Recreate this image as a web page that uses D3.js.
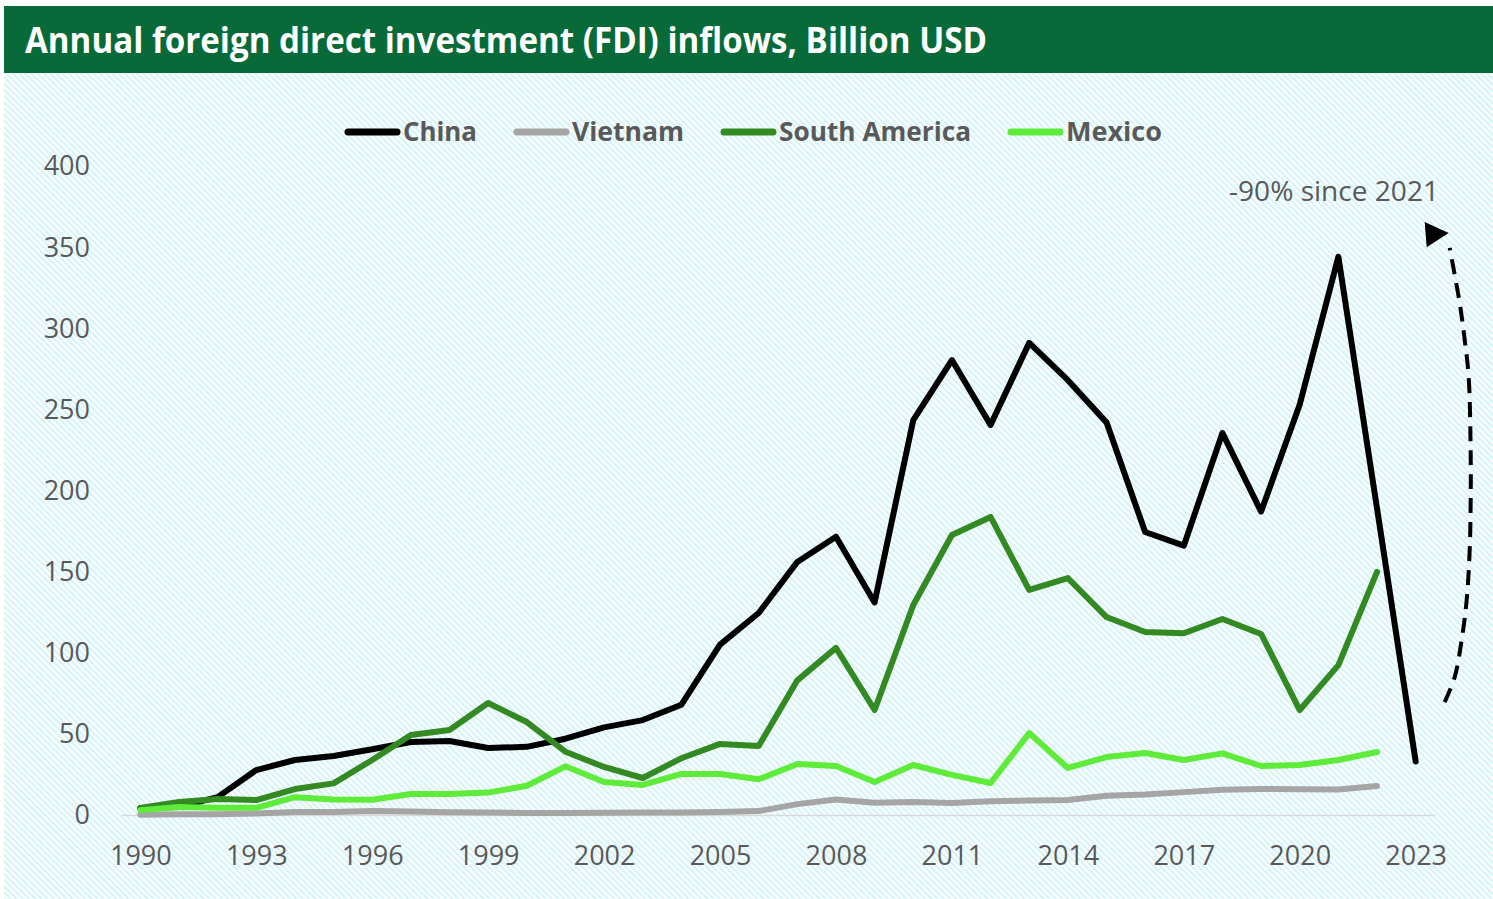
<!DOCTYPE html>
<html>
<head>
<meta charset="utf-8">
<script src="https://cdn.jsdelivr.net/npm/d3@7"></script>
<style>
  html, body { margin: 0; padding: 0; background: #ffffff; }
  svg { display: block; }
  text { font-family: "Open Sans", "Noto Sans", sans-serif; }
</style>
</head>
<body>
<svg id="chart" width="1493" height="899"></svg>
<script>
// Annual FDI inflows, billion USD
const years = d3.range(1990, 2024);
const xTickYears = [1990, 1993, 1996, 1999, 2002, 2005, 2008, 2011, 2014, 2017, 2020, 2023];
const yTicks = [0, 50, 100, 150, 200, 250, 300, 350, 400];

const seriesNames = ["China", "Vietnam", "South America", "Mexico"];

const china = [4.3, 5, 11, 27.7, 33.9, 36.4, 40.5, 45, 45.6, 41.3,
  42, 47, 54, 58.5, 68, 105, 124.5, 156, 171.5, 131,
  243.4, 280.4, 240.4, 291, 268, 242, 174.4, 166, 235.4, 187,
  253, 344, 189, 33];
const vietnam = [0.2, 0.4, 0.5, 0.9, 1.9, 1.8, 2.4, 2.2, 1.7, 1.5,
  1.3, 1.3, 1.4, 1.5, 1.6, 1.9, 2.4, 6.7, 9.6, 7.6,
  8, 7.4, 8.4, 8.9, 9.2, 11.8, 12.6, 14.1, 15.5, 16.1,
  15.8, 15.7, 17.9, null];
const southAmerica = [4.3, 8, 9.9, 9.2, 16, 19.5, 33.9, 49.3, 52.4, 69,
  57.3, 39, 29.6, 22.8, 35, 43.8, 42.5, 83, 103, 64.7,
  129.4, 172.6, 183.7, 138.7, 146, 122, 112.8, 112, 120.8, 111.6,
  64.7, 92.4, 149.8, null];
const mexico = [3, 4.9, 4.5, 4.4, 11, 9.6, 9.4, 12.9, 12.9, 13.8,
  18, 30, 20.3, 18.5, 25.3, 25.3, 22, 31.4, 30.2, 20.3,
  30.8, 24.7, 19.7, 50.5, 29, 35.7, 38.2, 33.9, 38, 30.2,
  30.8, 33.9, 38.8, null];

const seriesValues = [china, vietnam, southAmerica, mexico];
const seriesColors = ["#000000", "#a5a5a5", "#348a22", "#5eeb3a"];

const titleText = "Annual foreign direct investment (FDI) inflows, Billion USD";
const noteText = "-90% since 2021";

// ---- layout ----
const W = 1493, H = 899;
const plot = { left: 121, right: 1435, top: 166, bottom: 815 };
const textGrey = "#595959";

const svg = d3.select("#chart");
const defs = svg.append("defs");

// diagonal hatch backdrop
const pat = defs.append("pattern")
  .attr("id", "hatch")
  .attr("patternUnits", "userSpaceOnUse")
  .attr("width", 4.4).attr("height", 4.4)
  .attr("patternTransform", "rotate(-45)");
pat.append("rect").attr("width", 4.4).attr("height", 4.4).attr("fill", "#ffffff");
pat.append("rect").attr("width", 2.2).attr("height", 4.4).attr("fill", "#d4f4f8");

svg.append("rect").attr("width", W).attr("height", H).attr("fill", "#ffffff");
svg.append("rect").attr("x", 4).attr("y", 73).attr("width", W - 4).attr("height", H - 73)
  .attr("fill", "url(#hatch)");

// title banner
svg.append("rect").attr("x", 4).attr("y", 6).attr("width", W - 4).attr("height", 67)
  .attr("fill", "#076a38");
svg.append("text")
  .attr("x", 25).attr("y", 53)
  .attr("fill", "#ffffff")
  .attr("font-size", 35).attr("font-weight", 700)
  .attr("textLength", 962).attr("lengthAdjust", "spacingAndGlyphs")
  .text(titleText);

// scales
const x = d3.scalePoint().domain(years).range([plot.left, plot.right]).padding(0.5);
const y = d3.scaleLinear().domain([0, 400]).range([plot.bottom, plot.top]);

// y tick labels
svg.append("g").selectAll("text").data(yTicks).join("text")
  .attr("x", 90).attr("y", d => y(d))
  .attr("dy", "0.35em")
  .attr("text-anchor", "end")
  .attr("font-size", 27).attr("fill", textGrey)
  .text(d => d);

// category axis
const xAxis = svg.append("g").attr("transform", `translate(0,${plot.bottom})`)
  .call(d3.axisBottom(x).tickValues(xTickYears).tickSize(0).tickPadding(30));
xAxis.select(".domain").attr("stroke", "#d9d9d9").attr("stroke-width", 1.5);
xAxis.selectAll(".tick text")
  .attr("font-family", "'Open Sans', 'Noto Sans', sans-serif")
  .attr("font-size", 27).attr("fill", textGrey).attr("dy", "0.35em")
  .attr("y", 41);

// series lines
const line = d3.line()
  .defined(d => d.v != null)
  .x(d => x(d.year))
  .y(d => y(d.v));

seriesNames.forEach((name, i) => {
  const pts = years.map((yr, k) => ({ year: yr, v: seriesValues[i][k] }));
  svg.append("path")
    .datum(pts)
    .attr("fill", "none")
    .attr("stroke", seriesColors[i])
    .attr("stroke-width", 6)
    .attr("stroke-linejoin", "round")
    .attr("stroke-linecap", "round")
    .attr("d", line);
});

// legend
const legendLabelWidths = [74, 112, 192, 96];
const legendY = 132;
let lx = 345;
const legend = svg.append("g");
seriesNames.forEach((name, i) => {
  legend.append("line")
    .attr("x1", lx + 3).attr("x2", lx + 52)
    .attr("y1", legendY).attr("y2", legendY)
    .attr("stroke", seriesColors[i]).attr("stroke-width", 7)
    .attr("stroke-linecap", "round");
  legend.append("text")
    .attr("x", lx + 58).attr("y", legendY).attr("dy", "0.35em")
    .attr("font-size", 27).attr("font-weight", 700).attr("fill", textGrey)
    .attr("textLength", legendLabelWidths[i]).attr("lengthAdjust", "spacingAndGlyphs")
    .text(name);
  lx += 58 + legendLabelWidths[i] + 37;
});

// annotation: dashed curved arrow beside the 2021-2023 drop
const x23 = x(2023);
const arrowPts = [[29, 69.6], [39, 85], [46, 108], [51, 132.5], [54, 163], [55, 194],
  [55, 223], [53, 270], [49, 293], [44, 315.6], [34, 349.5]];
svg.append("path")
  .attr("d", d3.line().curve(d3.curveCatmullRom)
    .x(p => x23 + p[0]).y(p => y(p[1]))(arrowPts))
  .attr("fill", "none").attr("stroke", "#000000")
  .attr("stroke-width", 4).attr("stroke-dasharray", "15,9");
const headPts = [[9, 365.5], [33, 358.7], [11, 350]];
svg.append("polygon")
  .attr("points", headPts.map(p => `${x23 + p[0]},${y(p[1])}`).join(" "))
  .attr("fill", "#000000");

svg.append("text")
  .attr("x", 1229).attr("y", 192).attr("dy", "0.35em")
  .attr("font-size", 27).attr("fill", textGrey)
  .attr("textLength", 210).attr("lengthAdjust", "spacingAndGlyphs")
  .text(noteText);
</script>
</body>
</html>
